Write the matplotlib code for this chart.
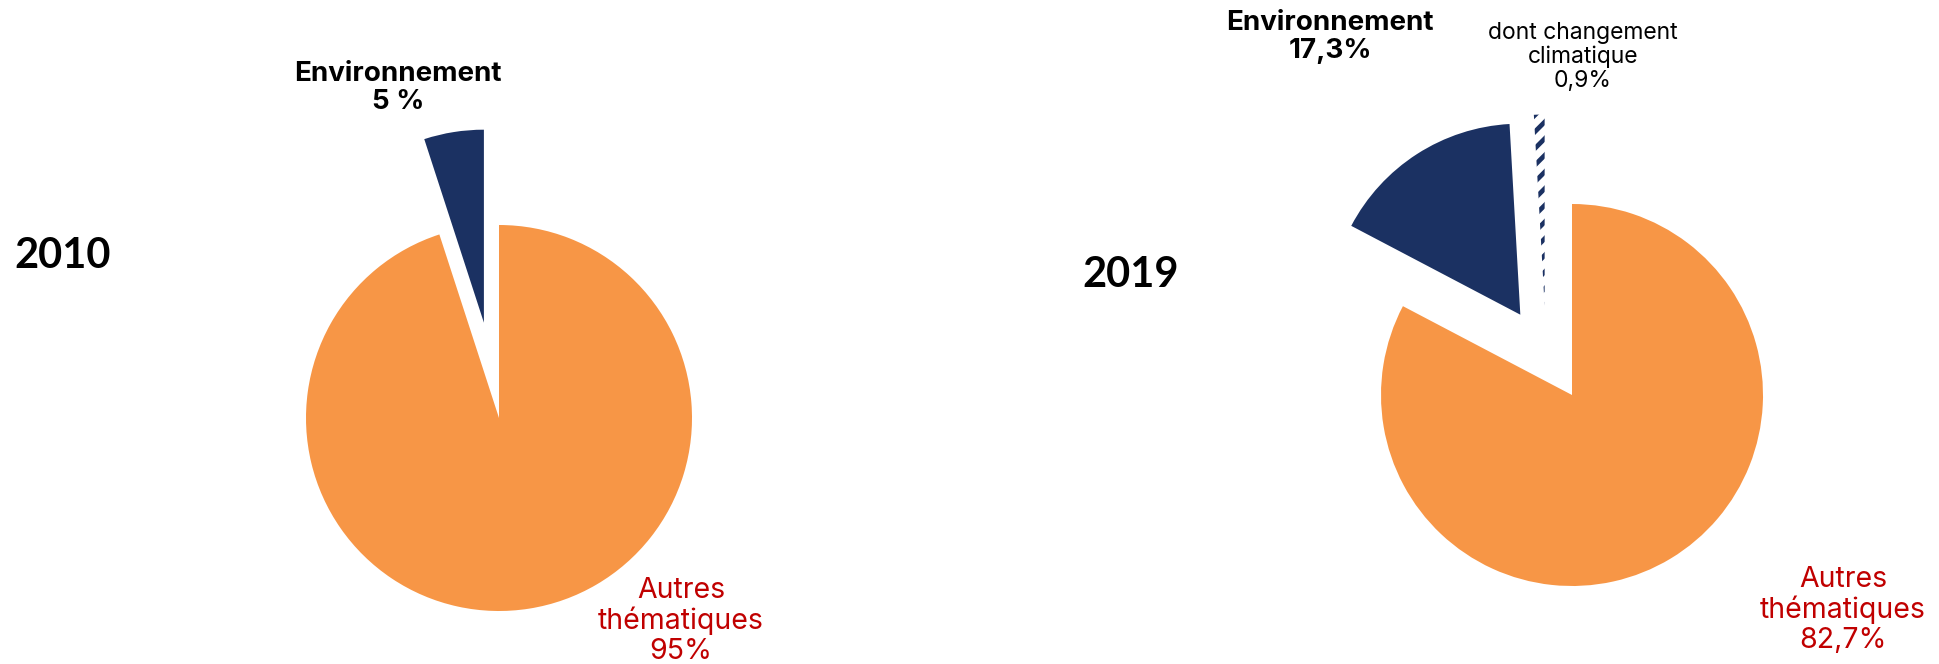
import numpy as np
import matplotlib
matplotlib.use('Agg')
import matplotlib.pyplot as plt

# données
annees = ['2010', '2019']
parts_2010 = [95, 5]                  # autres, environnement
parts_2019 = [82.7, 16.4, 0.9]        # autres, environnement (hors climat), dont climat
lbl_autres_2010 = 'Autres\nthématiques\n95%'
lbl_env_2010 = 'Environnement\n5 %'
lbl_autres_2019 = 'Autres\nthématiques\n82,7%'
lbl_env_2019 = 'Environnement\n17,3%'
lbl_climat_2019 = 'dont changement\nclimatique\n0,9%'

ORANGE = '#F79646'
NAVY = '#1B3162'
ROUGE = '#C00000'

W, H = 1939, 664
plt.rcParams['hatch.linewidth'] = 3.4
plt.rcParams['hatch.color'] = NAVY

fig = plt.figure(figsize=(W / 100, H / 100), dpi=100)
ax = fig.add_axes([0, 0, 1, 1])

# camembert 2010 (explode en unités de données -> fraction du rayon * rayon)
r1 = 193
w1, _ = ax.pie(parts_2010, colors=[ORANGE, NAVY], startangle=90, counterclock=False,
               explode=[0, 0.5 * r1], radius=r1, center=(499, H - 418),
               wedgeprops=dict(linewidth=0), frame=True)

# camembert 2019
cx, cy, r2 = 1572, H - 395, 191
w2, _ = ax.pie(parts_2019, colors=[ORANGE, NAVY, 'white'], startangle=90, counterclock=False,
               explode=[0, 0.5 * r2, 0], radius=r2, center=(cx, cy),
               wedgeprops=dict(linewidth=0), frame=True)
# la part "changement climatique" est hachurée et décalée vers la gauche
w2[2].set_edgecolor(NAVY)
w2[2].set_linewidth(0)
w2[2].set_hatch('//')
a = np.deg2rad(107)
w2[2].set_center((cx + 0.49 * r2 * np.cos(a), cy + 0.49 * r2 * np.sin(a)))

ax.set_xlim(0, W)
ax.set_ylim(0, H)
ax.axis('off')

txt = dict(family=['Inter', 'DejaVu Sans'], ha='center', va='center', linespacing=1.12)

ax.text(63, H - 256, annees[0], fontsize=30, fontweight='bold', family=['Lato', 'DejaVu Sans'],
        ha='center', va='center')
ax.text(1131, H - 275, annees[1], fontsize=30, fontweight='bold', family=['Lato', 'DejaVu Sans'],
        ha='center', va='center')

ax.text(398, H - 88, lbl_env_2010, fontsize=20, fontweight='bold', color='black', **txt)
ax.text(1330, H - 37, lbl_env_2019, fontsize=20, fontweight='bold', color='black', **txt)
ax.text(1583, H - 57, lbl_climat_2019, fontsize=16.5, color='black', **txt)

ax.text(681, H - 621, lbl_autres_2010, fontsize=20.5, color=ROUGE, **txt)
ax.text(1843, H - 610, lbl_autres_2019, fontsize=20.5, color=ROUGE, **txt)

fig.savefig('out.png', dpi=100, facecolor='white')
